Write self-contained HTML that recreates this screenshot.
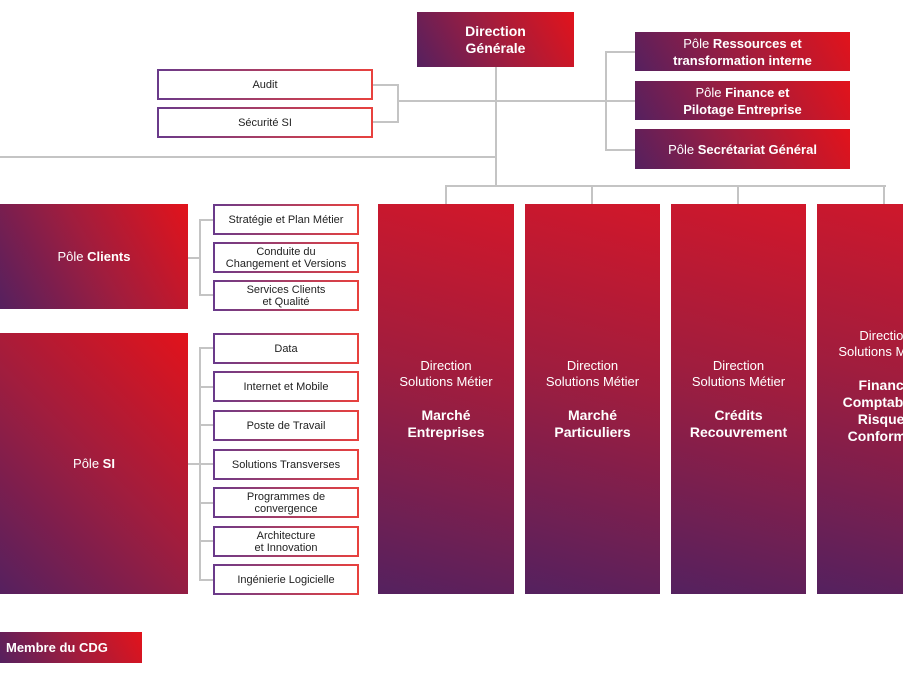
<!DOCTYPE html>
<html><head><meta charset="utf-8"><style>
body{margin:0;width:903px;height:674px;overflow:hidden;background:#fff;font-family:"Liberation Sans",sans-serif;position:relative}
.a{position:absolute;box-sizing:border-box}
.g{background:linear-gradient(60deg,#55205f 0%,#a01d3e 50%,#e2131b 100%);color:#fff;display:flex;align-items:center;justify-content:center;text-align:center;font-size:13px;line-height:17px}
.col{background:linear-gradient(15deg,#54215f 0%,#a01d3e 55%,#d2172a 100%);color:#fff;display:flex;flex-direction:column;align-items:center;justify-content:center;text-align:center;font-size:13px;line-height:16px}
.col b{font-size:14px;line-height:17px;margin-top:17px}
.o{border:2px solid;border-image:linear-gradient(90deg,#6a3a8a,#e8413e) 1;background:#fff;color:#222;display:flex;align-items:center;justify-content:center;text-align:center;font-size:11px;line-height:12px}
.l{position:absolute;background:#c4c4c4}
</style></head><body>
<!-- lines -->
<div class="l" style="left:495px;top:67px;width:2px;height:120px"></div>
<div class="l" style="left:0;top:156px;width:496px;height:2px"></div>
<div class="l" style="left:373px;top:84px;width:26px;height:2px"></div>
<div class="l" style="left:373px;top:121px;width:26px;height:2px"></div>
<div class="l" style="left:397px;top:84px;width:2px;height:39px"></div>
<div class="l" style="left:397px;top:100px;width:238px;height:2px"></div>
<div class="l" style="left:605px;top:51px;width:2px;height:100px"></div>
<div class="l" style="left:605px;top:51px;width:30px;height:2px"></div>
<div class="l" style="left:605px;top:149px;width:30px;height:2px"></div>
<div class="l" style="left:446px;top:185px;width:440px;height:2px"></div>
<div class="l" style="left:445px;top:185px;width:2px;height:19px"></div>
<div class="l" style="left:591px;top:185px;width:2px;height:19px"></div>
<div class="l" style="left:737px;top:185px;width:2px;height:19px"></div>
<div class="l" style="left:883px;top:185px;width:2px;height:19px"></div>
<div class="l" style="left:199px;top:219px;width:2px;height:77px"></div>
<div class="l" style="left:188px;top:257px;width:12px;height:2px"></div>
<div class="l" style="left:199px;top:219px;width:14px;height:2px"></div>
<div class="l" style="left:199px;top:294px;width:14px;height:2px"></div>
<div class="l" style="left:199px;top:347px;width:2px;height:234px"></div>
<div class="l" style="left:188px;top:463px;width:25px;height:2px"></div>
<div class="l" style="left:199px;top:347px;width:14px;height:2px"></div>
<div class="l" style="left:199px;top:386px;width:14px;height:2px"></div>
<div class="l" style="left:199px;top:424px;width:14px;height:2px"></div>
<div class="l" style="left:199px;top:502px;width:14px;height:2px"></div>
<div class="l" style="left:199px;top:540px;width:14px;height:2px"></div>
<div class="l" style="left:199px;top:579px;width:14px;height:2px"></div>

<div class="a g" style="left:417px;top:12px;width:157px;height:55px;font-weight:bold;font-size:14px"><div>Direction<br>Générale</div></div>
<div class="a g" style="left:635px;top:32px;width:215px;height:39px"><div>Pôle <b>Ressources et<br>transformation interne</b></div></div>
<div class="a g" style="left:635px;top:81px;width:215px;height:39px"><div>Pôle <b>Finance et<br>Pilotage Entreprise</b></div></div>
<div class="a g" style="left:635px;top:129px;width:215px;height:40px"><div>Pôle <b>Secrétariat Général</b></div></div>

<div class="a o" style="left:157px;top:69px;width:216px;height:31px">Audit</div>
<div class="a o" style="left:157px;top:107px;width:216px;height:31px">Sécurité SI</div>

<div class="a g" style="left:0;top:204px;width:188px;height:105px"><div>Pôle <b>Clients</b></div></div>
<div class="a g" style="left:0;top:333px;width:188px;height:261px;background:linear-gradient(45deg,#55205f 0%,#a01d3e 50%,#e2131b 100%)"><div>Pôle <b>SI</b></div></div>

<div class="a o" style="left:213px;top:204px;width:146px;height:31px">Stratégie et Plan Métier</div>
<div class="a o" style="left:213px;top:242px;width:146px;height:31px">Conduite du<br>Changement et Versions</div>
<div class="a o" style="left:213px;top:280px;width:146px;height:31px">Services Clients<br>et Qualité</div>

<div class="a o" style="left:213px;top:333px;width:146px;height:31px">Data</div>
<div class="a o" style="left:213px;top:371px;width:146px;height:31px">Internet et Mobile</div>
<div class="a o" style="left:213px;top:410px;width:146px;height:31px">Poste de Travail</div>
<div class="a o" style="left:213px;top:449px;width:146px;height:31px">Solutions Transverses</div>
<div class="a o" style="left:213px;top:487px;width:146px;height:31px">Programmes de<br>convergence</div>
<div class="a o" style="left:213px;top:526px;width:146px;height:31px">Architecture<br>et Innovation</div>
<div class="a o" style="left:213px;top:564px;width:146px;height:31px">Ingénierie Logicielle</div>

<div class="a col" style="left:378px;top:204px;width:136px;height:390px"><div>Direction<br>Solutions Métier</div><b>Marché<br>Entreprises</b></div>
<div class="a col" style="left:525px;top:204px;width:135px;height:390px"><div>Direction<br>Solutions Métier</div><b>Marché<br>Particuliers</b></div>
<div class="a col" style="left:671px;top:204px;width:135px;height:390px"><div>Direction<br>Solutions Métier</div><b>Crédits<br>Recouvrement</b></div>
<div class="a col" style="left:817px;top:204px;width:136px;height:390px;padding-bottom:26px"><div>Direction<br>Solutions Métier</div><b>Finance<br>Comptabilité<br>Risques<br>Conformité</b></div>

<div class="a g" style="left:0;top:632px;width:142px;height:31px;font-weight:bold;justify-content:flex-start;padding-left:6px">Membre du CDG</div>
</body></html>
